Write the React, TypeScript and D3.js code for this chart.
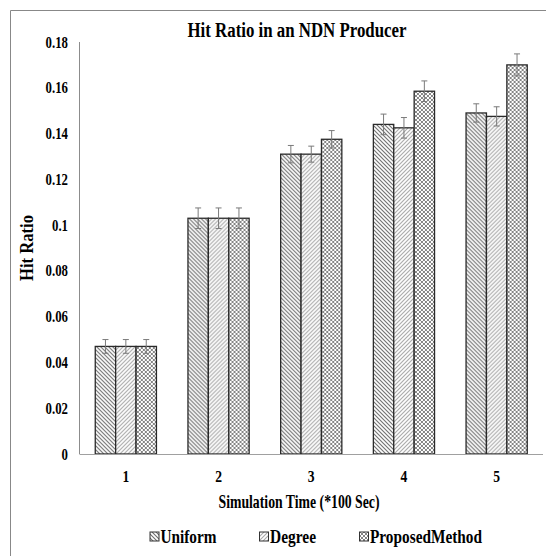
import React from "react";
import * as d3 from "d3";

const categories = ["1", "2", "3", "4", "5"];
const seriesNames = ["Uniform", "Degree", "ProposedMethod"];
const uniform = [0.047, 0.103, 0.131, 0.144, 0.149];
const degree = [0.047, 0.103, 0.131, 0.1425, 0.1475];
const proposed = [0.047, 0.103, 0.1375, 0.1585, 0.17];
const uniformErr = [0.003, 0.0045, 0.0038, 0.0045, 0.004];
const degreeErr = [0.003, 0.0045, 0.0035, 0.0045, 0.0042];
const proposedErr = [0.003, 0.0045, 0.0038, 0.0045, 0.0048];
const yTicks = [0, 0.02, 0.04, 0.06, 0.08, 0.1, 0.12, 0.14, 0.16, 0.18];

const W = 546;
const H = 556;
const FONT = "'Liberation Serif', 'Times New Roman', serif";

export default function App() {
  const values = [uniform, degree, proposed];
  const errs = [uniformErr, degreeErr, proposedErr];
  const patIds = ["patU", "patD", "patP"];

  const y = d3.scaleLinear().domain([0, 0.18]).range([454, 42]);
  const x = d3.scaleBand().domain(categories).range([79.5, 543]).padding(0);
  const barW = x.bandwidth() * 0.22;
  const inner = d3
    .scaleBand()
    .domain(seriesNames)
    .range([-barW * 1.5, barW * 1.5])
    .padding(0);

  const fmt = (v: number) => (v === 0 ? "0" : d3.format("")(+v.toFixed(2)));

  return (
    <svg
      width={W}
      height={H}
      style={{ position: "absolute", left: 0, top: 0, background: "#fff" }}
      fontFamily={FONT}
    >
      <defs>
        <pattern id="patU" patternUnits="userSpaceOnUse" width={4} height={4}>
          <rect width={4} height={4} fill="#fff" />
          <path d="M-1,-1 L5,5 M-1,3 L1,5 M3,-1 L5,1" stroke="#6e6e6e" strokeWidth={1.1} />
        </pattern>
        <pattern id="patD" patternUnits="userSpaceOnUse" width={4} height={4}>
          <rect width={4} height={4} fill="#fff" />
          <path d="M-1,5 L5,-1 M-1,1 L1,-1 M3,5 L5,3" stroke="#a8a8a8" strokeWidth={1.1} />
        </pattern>
        <pattern id="patP" patternUnits="userSpaceOnUse" width={4} height={4}>
          <rect width={4} height={4} fill="#fff" />
          <path
            d="M-1,-1 L5,5 M-1,3 L1,5 M3,-1 L5,1 M-1,5 L5,-1 M-1,1 L1,-1 M3,5 L5,3"
            stroke="#666"
            strokeWidth={0.8}
          />
        </pattern>
      </defs>

      {/* outer frame */}
      <line x1={10.5} y1={10.5} x2={W} y2={10.5} stroke="#888" strokeWidth={1} />
      <line x1={10.5} y1={10.5} x2={10.5} y2={H} stroke="#888" strokeWidth={1} />

      {/* title */}
      <text
        x={297}
        y={37}
        textAnchor="middle"
        fontSize={20}
        fontWeight="bold"
        textLength={219}
        lengthAdjust="spacingAndGlyphs"
      >
        Hit Ratio in an NDN Producer
      </text>

      {/* y axis */}
      <line x1={79.5} y1={y(0.18)} x2={79.5} y2={y(0)} stroke="#8c8c8c" strokeWidth={1} />
      {yTicks.map((t) => (
        <text
          key={t}
          x={68}
          y={y(t)}
          dy="0.35em"
          textAnchor="end"
          fontSize={16}
          fontWeight="bold"
          transform={`translate(68,0) scale(0.8,1) translate(-68,0)`}
        >
          {fmt(t)}
        </text>
      ))}
      <text
        transform={`translate(33,248) rotate(-90)`}
        textAnchor="middle"
        fontSize={18}
        fontWeight="bold"
        textLength={66}
        lengthAdjust="spacingAndGlyphs"
      >
        Hit Ratio
      </text>

      {/* bars */}
      {categories.map((c, ci) => (
        <g key={c} transform={`translate(${x(c)! + x.bandwidth() / 2},0)`}>
          {seriesNames.map((s, si) => {
            const v = values[si][ci];
            return (
              <rect
                key={s}
                x={inner(s)!}
                y={y(v)}
                width={inner.bandwidth()}
                height={y(0) - y(v)}
                fill={`url(#${patIds[si]})`}
                stroke="#2a2a2a"
                strokeWidth={1.3}
              />
            );
          })}
          {seriesNames.map((s, si) => {
            const v = values[si][ci];
            const e = errs[si][ci];
            const cx = inner(s)! + inner.bandwidth() / 2;
            return (
              <g key={s + "e"} stroke="#7a7a7a" strokeWidth={1}>
                <line x1={cx} x2={cx} y1={y(v + e)} y2={y(v - e)} />
                <line x1={cx - 3} x2={cx + 3} y1={y(v + e)} y2={y(v + e)} />
                <line x1={cx - 3} x2={cx + 3} y1={y(v - e)} y2={y(v - e)} />
              </g>
            );
          })}
        </g>
      ))}

      {/* x axis */}
      <line x1={79.5} y1={454.5} x2={543} y2={454.5} stroke="#a0a0a0" strokeWidth={1.2} />
      {categories.map((c) => {
        const cx = x(c)! + x.bandwidth() / 2;
        return (
          <text
            key={c}
            x={cx}
            y={482}
            textAnchor="middle"
            fontSize={16}
            fontWeight="bold"
            transform={`translate(${cx},0) scale(0.85,1) translate(${-cx},0)`}
          >
            {c}
          </text>
        );
      })}
      <text
        x={299}
        y={508}
        textAnchor="middle"
        fontSize={19}
        fontWeight="bold"
        textLength={161}
        lengthAdjust="spacingAndGlyphs"
      >
        Simulation Time (*100 Sec)
      </text>

      {/* legend */}
      {[
        { sx: 150, tx: 160.5, tw: 56 },
        { sx: 259.5, tx: 270, tw: 46 },
        { sx: 359.5, tx: 370, tw: 112 },
      ].map((p, i) => (
        <g key={seriesNames[i]}>
          <rect
            x={p.sx}
            y={532}
            width={9}
            height={9}
            fill={`url(#${patIds[i]})`}
            stroke="#333"
            strokeWidth={1}
          />
          <text
            x={p.tx}
            y={543}
            fontSize={18}
            fontWeight="bold"
            textLength={p.tw}
            lengthAdjust="spacingAndGlyphs"
          >
            {seriesNames[i]}
          </text>
        </g>
      ))}
    </svg>
  );
}
